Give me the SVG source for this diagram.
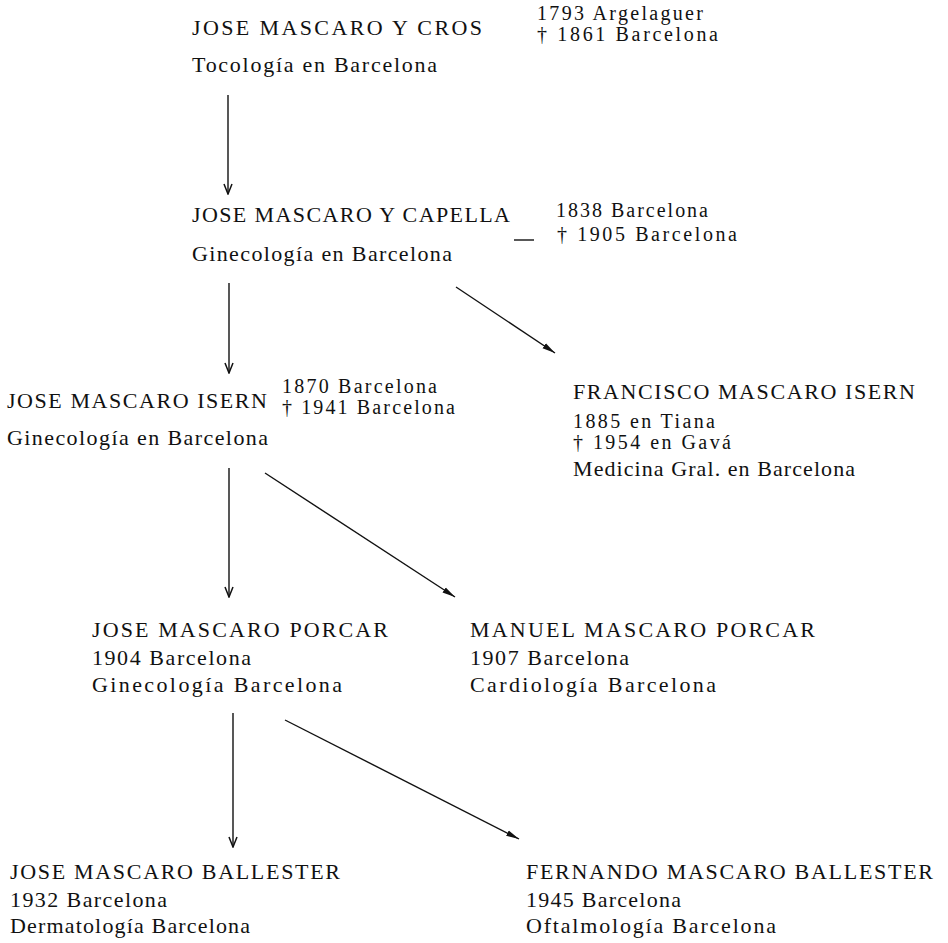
<svg xmlns="http://www.w3.org/2000/svg" width="948" height="943" viewBox="0 0 948 943">
<defs>
<style>
text{font-family:"Liberation Serif","Times New Roman",serif;font-size:22px;fill:#111}
text.s{font-size:20px}
.c{stroke:#111;stroke-width:1.4;fill:none}
</style>
<marker id="v" markerWidth="12" markerHeight="10" refX="11" refY="5" orient="auto" markerUnits="userSpaceOnUse" viewBox="0 0 12 10">
<path d="M1,1 L11,5 L1,9" fill="none" stroke="#111" stroke-width="1.5"/>
</marker>
<marker id="d" markerWidth="14" markerHeight="10" refX="13" refY="5" orient="auto" markerUnits="userSpaceOnUse" viewBox="0 0 14 10">
<path d="M0,2 L13,5 L0,8 Z" fill="#111"/>
</marker>
</defs>
<g id="connectors">
<line class="c" x1="228" y1="95" x2="228" y2="194" marker-end="url(#v)"/>
<line class="c" x1="229" y1="283" x2="229" y2="373" marker-end="url(#v)"/>
<line class="c" x1="456" y1="287" x2="555" y2="353" marker-end="url(#d)"/>
<line class="c" x1="229" y1="468" x2="229" y2="597" marker-end="url(#v)"/>
<line class="c" x1="265" y1="473" x2="455" y2="597" marker-end="url(#d)"/>
<line class="c" x1="233" y1="713" x2="233" y2="847" marker-end="url(#v)"/>
<line class="c" x1="285" y1="720" x2="519" y2="839" marker-end="url(#d)"/>
<line class="c" x1="514" y1="240" x2="534" y2="240"/>
</g>
<g id="n1">
<text x="192" y="35" textLength="290" lengthAdjust="spacing">JOSE MASCARO Y CROS</text>
<text x="192" y="72" textLength="245" lengthAdjust="spacing">Tocología en Barcelona</text>
<text class="s" x="537" y="20" textLength="166" lengthAdjust="spacing">1793 Argelaguer</text>
<text class="s" x="537" y="41" textLength="181" lengthAdjust="spacing">† 1861 Barcelona</text>
</g>
<g id="n2">
<text x="192" y="222" textLength="318" lengthAdjust="spacing">JOSE MASCARO Y CAPELLA</text>
<text x="192" y="261" textLength="260" lengthAdjust="spacing">Ginecología en Barcelona</text>
<text class="s" x="556" y="217" textLength="152" lengthAdjust="spacing">1838 Barcelona</text>
<text class="s" x="557" y="241" textLength="180" lengthAdjust="spacing">† 1905 Barcelona</text>
</g>
<g id="n3">
<text x="7" y="408" textLength="260" lengthAdjust="spacing">JOSE MASCARO ISERN</text>
<text x="7" y="445" textLength="261" lengthAdjust="spacing">Ginecología en Barcelona</text>
<text class="s" x="282" y="393" textLength="155" lengthAdjust="spacing">1870 Barcelona</text>
<text class="s" x="282" y="414" textLength="173" lengthAdjust="spacing">† 1941 Barcelona</text>
</g>
<g id="n4">
<text x="573" y="399" textLength="342" lengthAdjust="spacing">FRANCISCO MASCARO ISERN</text>
<text class="s" x="573" y="428" textLength="142" lengthAdjust="spacing">1885 en Tiana</text>
<text class="s" x="573" y="449" textLength="158" lengthAdjust="spacing">† 1954 en Gavá</text>
<text x="573" y="476" textLength="282" lengthAdjust="spacing">Medicina Gral. en Barcelona</text>
</g>
<g id="n5">
<text x="92" y="637" textLength="296" lengthAdjust="spacing">JOSE MASCARO PORCAR</text>
<text x="92" y="665" textLength="159" lengthAdjust="spacing">1904 Barcelona</text>
<text x="92" y="692" textLength="250" lengthAdjust="spacing">Ginecología Barcelona</text>
</g>
<g id="n6">
<text x="470" y="637" textLength="345" lengthAdjust="spacing">MANUEL MASCARO PORCAR</text>
<text x="470" y="665" textLength="159" lengthAdjust="spacing">1907 Barcelona</text>
<text x="470" y="692" textLength="246" lengthAdjust="spacing">Cardiología Barcelona</text>
</g>
<g id="n7">
<text x="10" y="879" textLength="330" lengthAdjust="spacing">JOSE MASCARO BALLESTER</text>
<text x="10" y="907" textLength="157" lengthAdjust="spacing">1932 Barcelona</text>
<text x="10" y="933" textLength="240" lengthAdjust="spacing">Dermatología Barcelona</text>
</g>
<g id="n8">
<text x="526" y="879" textLength="407" lengthAdjust="spacing">FERNANDO MASCARO BALLESTER</text>
<text x="526" y="907" textLength="155" lengthAdjust="spacing">1945 Barcelona</text>
<text x="526" y="933" textLength="250" lengthAdjust="spacing">Oftalmología Barcelona</text>
</g>
</svg>
